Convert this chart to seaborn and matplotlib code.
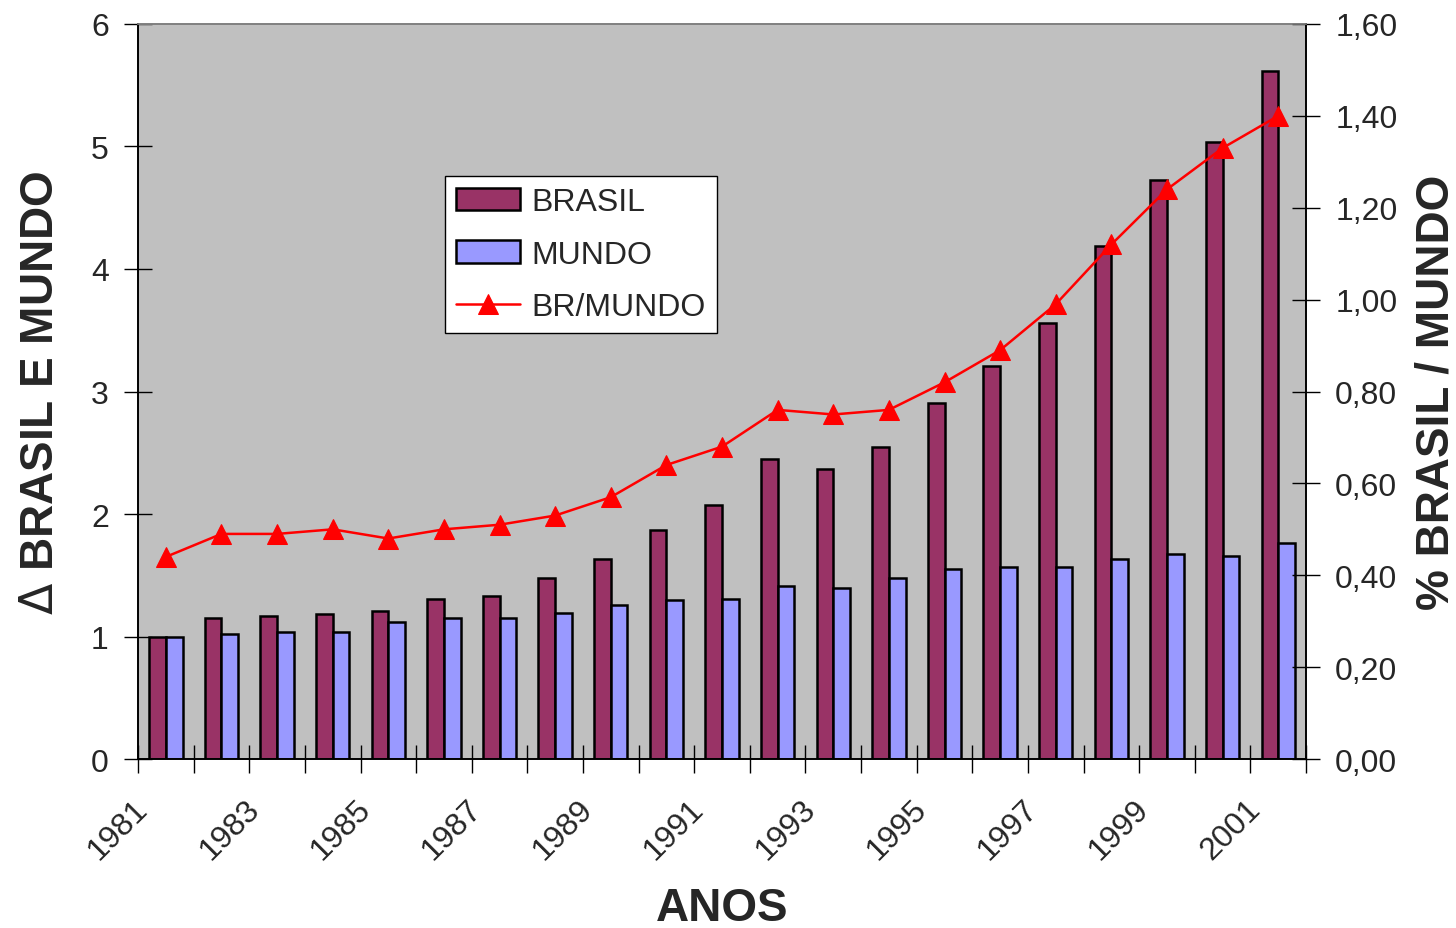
import numpy as np
import pandas as pd
import matplotlib
matplotlib.use('Agg')
import matplotlib.pyplot as plt
import matplotlib.transforms as mtransforms
from matplotlib.ticker import FixedLocator, FuncFormatter
import seaborn as sns

# values
anos = ['1981', '1982', '1983', '1984', '1985', '1986', '1987', '1988', '1989', '1990', '1991',
        '1992', '1993', '1994', '1995', '1996', '1997', '1998', '1999', '2000', '2001']
brasil = [1.00, 1.15, 1.17, 1.18, 1.21, 1.31, 1.33, 1.48, 1.63, 1.87, 2.07,
          2.45, 2.37, 2.55, 2.91, 3.21, 3.56, 4.19, 4.73, 5.04, 5.62]
mundo = [1.00, 1.02, 1.04, 1.04, 1.12, 1.15, 1.15, 1.19, 1.26, 1.30, 1.31,
         1.41, 1.40, 1.48, 1.55, 1.57, 1.57, 1.63, 1.67, 1.66, 1.76]
br_mundo = [0.44, 0.49, 0.49, 0.50, 0.48, 0.50, 0.51, 0.53, 0.57, 0.64, 0.68,
            0.76, 0.75, 0.76, 0.82, 0.89, 0.99, 1.12, 1.24, 1.33, 1.40]

sns.set_style('ticks')
plt.rcParams['font.family'] = ['Liberation Sans', 'DejaVu Sans']

df = pd.DataFrame({'ano': anos * 2,
                   'valor': brasil + mundo,
                   'serie': ['BRASIL'] * len(anos) + ['MUNDO'] * len(anos)})

fig = plt.figure(figsize=(14.56, 9.29), dpi=100)
ax = fig.add_axes([0.0948, 0.1819, 0.8022, 0.7912])
ax.set_facecolor('#C0C0C0')

sns.barplot(data=df, x='ano', y='valor', hue='serie', order=anos,
            palette={'BRASIL': '#993366', 'MUNDO': '#9999FF'},
            width=0.6, edgecolor='black', linewidth=1.8, saturation=1,
            errorbar=None, ax=ax)

ax2 = ax.twinx()
sns.lineplot(x=np.arange(len(anos)), y=br_mundo, ax=ax2, color='#FF0000',
             linewidth=1.8, marker='^', markersize=14, markeredgecolor='#FF0000',
             label='BR/MUNDO')

# axes limits / ticks
ax.set_xlim(-0.5, len(anos) - 0.5)
ax.set_ylim(0, 6)
ax2.set_ylim(0, 1.6)
ax.set_yticks(range(0, 7))
ax2.set_yticks(np.arange(0, 1.61, 0.2))
ax2.yaxis.set_major_formatter(FuncFormatter(lambda v, p: f'{v:.2f}'.replace('.', ',')))

# ticks on category boundaries, labels on every second year
ax.xaxis.set_major_locator(FixedLocator(np.arange(-0.5, len(anos), 1.0)))
ax.xaxis.set_minor_locator(FixedLocator(np.arange(0, len(anos), 2)))
ax.xaxis.set_major_formatter(FuncFormatter(lambda v, p: ''))
ax.xaxis.set_minor_formatter(FuncFormatter(lambda v, p: anos[int(round(v))]))
ax.tick_params(axis='x', which='major', direction='inout', length=20, width=1, color='black')
ax.tick_params(axis='x', which='minor', length=0, pad=25, labelsize=23)
offset = mtransforms.ScaledTranslation(-0.33, 0, fig.dpi_scale_trans)
for lab in ax.xaxis.get_minorticklabels():
    lab.set_rotation(45)
    lab.set_rotation_mode('anchor')
    lab.set_ha('right')
    lab.set_va('top')
    lab.set_transform(lab.get_transform() + offset)

ax.tick_params(axis='y', direction='inout', length=20, width=1, pad=11, labelsize=23, color='black')
ax2.tick_params(axis='y', direction='inout', length=20, width=1, pad=11, labelsize=23, color='black')

for a in (ax, ax2):
    for s in ('left', 'right', 'bottom'):
        a.spines[s].set_color('black')
        a.spines[s].set_linewidth(1.2)
    a.spines['top'].set_visible(True)
    a.spines['top'].set_color('#808080')
    a.spines['top'].set_linewidth(1.2)

ax.set_xlabel('ANOS', fontsize=33, fontweight='bold', labelpad=15)
ax.set_ylabel(r'$\Delta$ BRASIL E MUNDO', fontsize=33, fontweight='bold', labelpad=20)
ax2.set_ylabel('% BRASIL / MUNDO', fontsize=33, fontweight='bold', labelpad=12)

# single legend
h1, l1 = ax.get_legend_handles_labels()
h2, l2 = ax2.get_legend_handles_labels()
if ax.get_legend() is not None:
    ax.get_legend().remove()
if ax2.get_legend() is not None:
    ax2.get_legend().remove()
leg = ax2.legend(h1 + h2, l1 + l2, loc='upper left', bbox_to_anchor=(0.263, 0.793),
                 fontsize=23, frameon=True, fancybox=False, framealpha=1,
                 edgecolor='black', facecolor='white', handlelength=2.0,
                 handletextpad=0.35, labelspacing=0.7, borderpad=0.35,
                 borderaxespad=0)
leg.get_frame().set_linewidth(1.0)

fig.savefig('out.png', dpi=100)
